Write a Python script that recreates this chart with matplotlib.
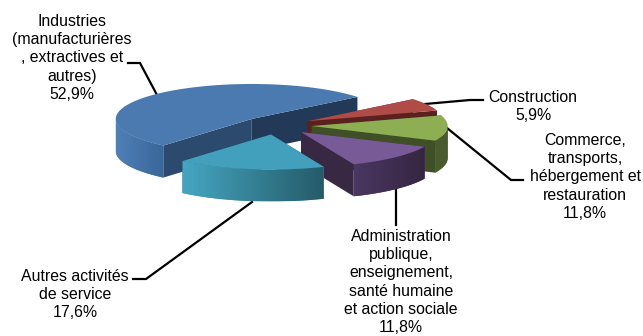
import numpy as np
import matplotlib
matplotlib.use("Agg")
import matplotlib.pyplot as plt
from matplotlib.colors import to_rgb, LinearSegmentedColormap

plt.rcParams['font.family'] = ['Liberation Sans', 'DejaVu Sans']

# shares in percent, in drawing order round the pie
names = ["Industries\n(manufacturières\n, extractives et\nautres)",
         "Autres activités\nde service",
         "Administration\npublique,\nenseignement,\nsanté humaine\net action sociale",
         "Commerce,\ntransports,\nhébergement et\nrestauration",
         "Construction"]
shares = [52.9, 17.6, 11.8, 11.8, 5.9]
share_labels = ["52,9%", "17,6%", "11,8%", "11,8%", "5,9%"]

top_colors = ["#4A7AAF", "#43A0BC", "#775A96", "#8DAE52", "#B04C48"]
side_left = ["#4F80B6", "#45A6C2", "#4A3763", "#4A5C2D", "#6A2825"]
side_right = ["#3A6699", "#255A68", "#35263F", "#4A5C2D", "#5A211F"]
face_a = ["#2B4A6E", "#255A68", "#382844", "#3F4F26", "#5A211F"]
face_b = ["#223A58", "#255A68", "#382844", "#3F4F26", "#5A211F"]

# pie geometry in pixels
cx, cy = 276.4, 125.5
rx, ry = 136, 35
depth = 32
explode = 0.26
start = 39.0

# label centre x, top line y, and leader line points
label_pos = [(72, 14), (75, 269), (401, 229), (585, 133), (533, 90)]
leaders = [[(128, 63), (140, 63), (157, 95)],
           [(252, 202), (146, 279), (133, 279)],
           [(396, 190), (396, 225)],
           [(447, 128), (511, 180), (523, 180)],
           [(425, 104), (470, 100), (483, 100)]]

fig = plt.figure(figsize=(6.43, 3.36), dpi=100)
ax = fig.add_axes([0, 0, 1, 1])
ax.set_xlim(0, 643)
ax.set_ylim(336, 0)
ax.axis("off")

# work out the wedge angles from the shares
angles = [start]
for s in shares:
    angles.append(angles[-1] + s / sum(shares) * 360)

# painter's order: back wedges first
for i in [0, 4, 3, 2, 1]:
    a0, a1 = np.radians(angles[i]), np.radians(angles[i + 1])
    mid = (a0 + a1) / 2
    ox = cx + explode * rx * np.cos(mid)
    oy = cy - explode * ry * np.sin(mid)
    t = np.linspace(a0, a1, 120)
    xs = ox + rx * np.cos(t)
    ys = oy - ry * np.sin(t)

    # cut faces
    ax.fill([ox, xs[0], xs[0], ox], [oy, ys[0], ys[0] + depth, oy + depth],
            color=face_b[i], lw=0)
    ax.fill([ox, xs[-1], xs[-1], ox], [oy, ys[-1], ys[-1] + depth, oy + depth],
            color=face_a[i], lw=0)

    # outer wall, front part only, shaded left to right
    front = np.sin(t) <= 0
    if front.sum() > 1:
        fx, fy = xs[front], ys[front]
        order = np.argsort(fx)
        fx, fy = fx[order], fy[order]
        wall = ax.fill(np.r_[fx, fx[::-1]], np.r_[fy, fy[::-1] + depth],
                       color=side_left[i], lw=0)[0]
        cmap = LinearSegmentedColormap.from_list("w", [to_rgb(side_left[i]), to_rgb(side_right[i])])
        im = ax.imshow(np.linspace(0, 1, 256).reshape(1, -1), cmap=cmap, aspect="auto",
                       extent=[fx.min(), fx.max(), fy.max() + depth, fy.min()],
                       interpolation="bilinear", zorder=wall.get_zorder())
        im.set_clip_path(wall)
        ax.set_xlim(0, 643)
        ax.set_ylim(336, 0)

    # top face
    ax.fill(np.r_[ox, xs], np.r_[oy, ys], color=top_colors[i], lw=0, zorder=1.1 + 0.01 * i)

# leader lines
for pts in leaders:
    p = np.array(pts)
    ax.plot(p[:, 0], p[:, 1], color="black", lw=1.6, solid_joinstyle="miter", zorder=0.5)

# labels
for n, s, (x, y) in zip(names, share_labels, label_pos):
    ax.text(x, y, n + "\n" + s, ha="center", va="top", fontsize=11.4,
            color="black", linespacing=1.27)

fig.savefig("out.png", dpi=100)
